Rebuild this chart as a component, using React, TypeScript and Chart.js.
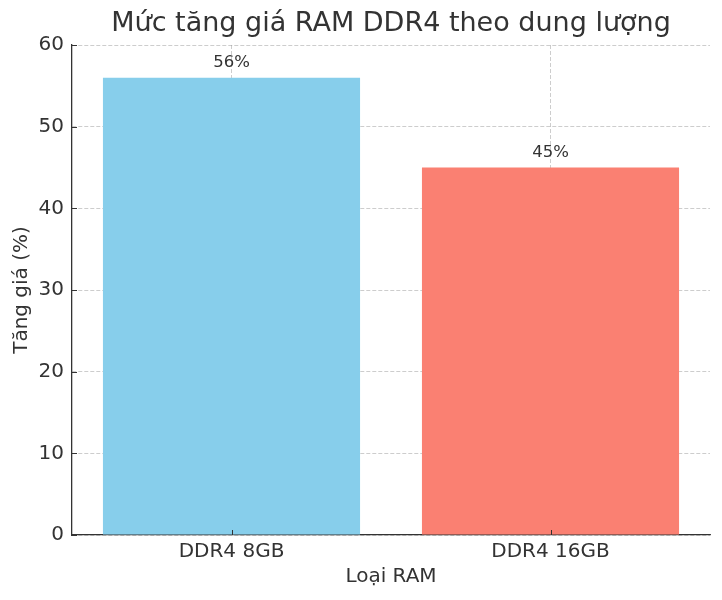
import React, { useEffect, useRef } from 'react';
import { Chart, registerables } from 'chart.js';

Chart.register(...registerables);

const categories = ['DDR4 8GB', 'DDR4 16GB'];
const increases = [56, 45];
const barColors = ['#87CEEB', '#FA8072'];
const yMin = 0;
const yMax = 60;
const yStep = 10;

const FONT = '"DejaVu Sans", sans-serif';
const TEXT = '#333333';
const GRID = 'rgba(150,150,150,0.6)';

// matplotlib-style inward tick marks + value labels over bars
const overlayPlugin = {
  id: 'overlay',
  afterDraw(chart: any) {
    const { ctx, chartArea } = chart;
    const xs = chart.scales.x;
    const ys = chart.scales.y;
    ctx.save();
    ctx.strokeStyle = TEXT;
    ctx.lineWidth = 1;
    ctx.beginPath();
    xs.ticks.forEach((_: any, i: number) => {
      const px = Math.round(xs.getPixelForTick(i)) + 0.5;
      ctx.moveTo(px, chartArea.bottom);
      ctx.lineTo(px, chartArea.bottom - 5);
    });
    ys.ticks.forEach((_: any, i: number) => {
      const py = Math.round(ys.getPixelForTick(i)) + 0.5;
      ctx.moveTo(chartArea.left, py);
      ctx.lineTo(chartArea.left + 5, py);
    });
    ctx.stroke();

    ctx.fillStyle = TEXT;
    ctx.font = `16.5px ${FONT}`;
    ctx.textAlign = 'center';
    ctx.textBaseline = 'alphabetic';
    const meta = chart.getDatasetMeta(0);
    meta.data.forEach((bar: any, i: number) => {
      ctx.fillText(`${increases[i]}%`, bar.x, bar.y - 11);
    });
    ctx.restore();
  },
};

const App: React.FC = () => {
  const chartRef = useRef<HTMLCanvasElement>(null);
  const chartInstanceRef = useRef<Chart | null>(null);

  useEffect(() => {
    document.body.style.margin = '0';
    if (!chartRef.current) return;
    const ctx = chartRef.current.getContext('2d');
    if (!ctx) return;

    if (chartInstanceRef.current) {
      chartInstanceRef.current.destroy();
    }

    chartInstanceRef.current = new Chart(ctx, {
      type: 'bar',
      data: {
        labels: categories,
        datasets: [
          {
            data: increases,
            backgroundColor: barColors,
            borderWidth: 0,
            barPercentage: 0.806,
            categoryPercentage: 1,
          },
        ],
      },
      options: {
        responsive: true,
        maintainAspectRatio: false,
        animation: false,
        layout: { padding: { left: 0, right: 12, top: 0, bottom: 0 } },
        scales: {
          x: {
            z: 1,
            grid: {
              display: true,
              offset: false,
              drawTicks: false,
              color: GRID,
              lineWidth: 0.8,
            },
            // border.dash dashes the grid lines in Chart.js 4
            border: { display: true, color: TEXT, width: 1.3, dash: [4, 2] },
            ticks: {
              color: TEXT,
              font: { family: FONT, size: 20 },
              padding: 5,
            },
            title: {
              display: true,
              text: 'Loại RAM',
              color: TEXT,
              font: { family: FONT, size: 20 },
              padding: { top: 0, bottom: 11 },
            },
            afterFit: (scale: any) => {
              scale.height = 65;
            },
          },
          y: {
            z: 1,
            min: yMin,
            max: yMax,
            ticks: {
              stepSize: yStep,
              color: TEXT,
              font: { family: FONT, size: 20 },
              padding: 8,
            },
            grid: {
              display: true,
              drawTicks: false,
              color: GRID,
              lineWidth: 0.8,
            },
            border: { display: true, color: TEXT, width: 1.3, dash: [4, 2] },
            title: {
              display: true,
              text: 'Tăng giá (%)',
              color: TEXT,
              font: { family: FONT, size: 20 },
              padding: { top: 10, bottom: 0 },
            },
            afterFit: (scale: any) => {
              scale.width = 72;
            },
          },
        },
        plugins: {
          legend: { display: false },
          tooltip: { enabled: false },
          title: {
            display: true,
            text: 'Mức tăng giá RAM DDR4 theo dung lượng',
            color: TEXT,
            fullSize: false,
            font: { family: FONT, size: 27, weight: 'normal' },
            padding: { top: 7.8, bottom: 4.8 },
          },
        },
      },
      plugins: [overlayPlugin],
    });

    return () => {
      if (chartInstanceRef.current) {
        chartInstanceRef.current.destroy();
        chartInstanceRef.current = null;
      }
    };
  }, []);

  return (
    <div style={{ width: 722, height: 600, background: '#fff' }}>
      <canvas ref={chartRef}></canvas>
    </div>
  );
};

export default App;
